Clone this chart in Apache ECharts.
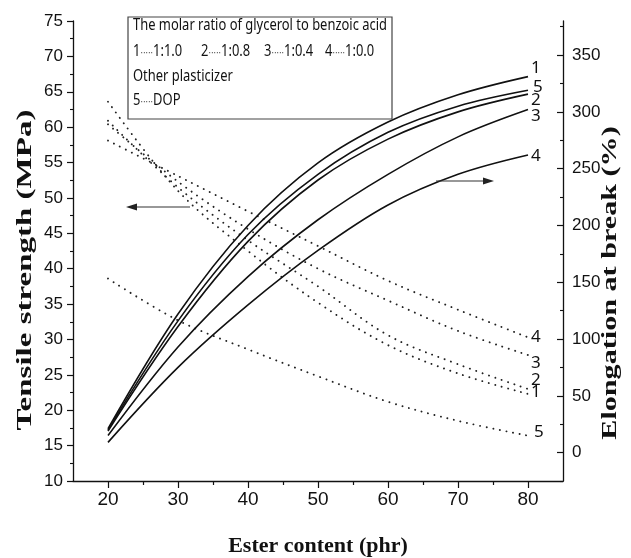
<!DOCTYPE html>
<html><head><meta charset="utf-8">
<script src="https://cdn.jsdelivr.net/npm/echarts@6/dist/echarts.min.js"></script>
<style>html,body{margin:0;padding:0;background:#fff}#c{width:631px;height:558px}</style>
</head><body><div id="c"></div>
<script>
// ---- data ----
const esterContent = [20, 30, 40, 50, 60, 70, 80];
// Tensile strength (MPa), dotted, left axis
const tensile1 = [63.6, 51.0, 42.5, 35.2, 29.2, 25.2, 22.3];
const tensile2 = [60.9, 51.5, 44.0, 37.5, 30.6, 26.5, 23.0];
const tensile3 = [60.4, 52.3, 45.6, 40.0, 35.5, 31.2, 27.8];
const tensile4 = [58.1, 53.1, 48.1, 43.2, 38.3, 34.2, 30.3];
const tensile5 = [38.6, 32.7, 28.6, 24.8, 21.2, 18.5, 16.4];
// Elongation at break (%), solid, right axis
const elong1 = [21, 122, 200, 255, 291, 315, 331];
const elong2 = [19, 111, 186, 240, 276, 300, 315.6];
const elong3 = [15, 93, 155, 205, 245, 278, 302];
const elong4 = [9, 75, 130, 178, 218, 245, 262];
const elong5 = [20, 116, 192, 245, 282, 305, 319];
// curve names
const curveIds = ['1', '2', '3', '4', '5'];
// tick labels
const xTicks = [20, 30, 40, 50, 60, 70, 80];
const xMinorTicks = [25, 35, 45, 55, 65, 75];
const rightTicks = [0, 50, 100, 150, 200, 250, 300, 350];
const rightMinorTicks = [-25, 25, 75, 125, 175, 225, 275, 325, 375];
// legend texts
const legendTitle = 'The molar ratio of glycerol to benzoic acid';
const ratioLabels = ['1:1.0', '1:0.8', '1:0.4', '1:0.0'];
const otherTitle = 'Other plasticizer';
const otherLabel = 'DOP';

const chart = echarts.init(document.getElementById('c'), null, {renderer: 'canvas'});
const ink = '#111';
const sans = '"Liberation Sans", Arial, sans-serif';
const legendFamily = '"Noto Sans", "Liberation Sans", sans-serif';
const serif = '"Liberation Serif", "Times New Roman", serif';

// horizontal squeeze so the legend text matches the narrow face of the original
const mctx = document.createElement('canvas').getContext('2d');
mctx.font = '17px ' + legendFamily;
const legendScale = 254 / mctx.measureText(legendTitle).width;
const legendItemX = [133, 201, 264, 325];

function mk(name, values, yIdx, dotted, offset) {
  return {
    type: 'line', name: name, yAxisIndex: yIdx,
    data: esterContent.map((x, i) => [x, values[i]]),
    smooth: 0.35, symbol: 'none', silent: true, animation: false,
    lineStyle: dotted
      ? {color: '#222', width: 1.9, type: [0.1, 6.6], cap: 'round'}
      : {color: ink, width: 1.6},
    endLabel: {show: true, formatter: name, color: ink, fontSize: 17,
      fontFamily: legendFamily, distance: 3, offset: offset}
  };
}

const tensiles = [tensile1, tensile2, tensile3, tensile4, tensile5];
const elongs = [elong1, elong2, elong3, elong4, elong5];
const tOff = [[0, -2], [0, -9], [0, 8], [0, 0], [3, -4]];
const eOff = [[0, -8], [0, 6], [0, 7], [0, 1], [2, -3]];

const series = [];
curveIds.forEach((id, i) => series.push(mk(id, tensiles[i], 0, true, tOff[i])));
curveIds.forEach((id, i) => series.push(mk(id, elongs[i], 1, false, eOff[i])));

function legendLine(num, label) {
  return '{n|' + num + '}{d|·····}{n|' + label + '}';
}
const legendRich = {
  n: {fontSize: 17, fontFamily: legendFamily, fill: ink},
  d: {fontSize: 10, fontFamily: sans, fill: ink, padding: [4, 0, 0, 0]}
};
function legendText(x, y, text, rich) {
  const st = {text: text, font: '17px ' + legendFamily, fill: ink, verticalAlign: 'middle'};
  if (rich) st.rich = legendRich;
  return {type: 'text', x: x, y: y, scaleX: legendScale, z: 11, style: st};
}

const graphic = [
  {type: 'rect', shape: {x: 128, y: 17, width: 264, height: 102},
   style: {fill: '#fff', stroke: '#444', lineWidth: 1.2}, z: 10},
  legendText(133, 25, legendTitle, false),
  legendText(133, 76, otherTitle, false),
  legendText(133, 100, legendLine('5', otherLabel), true),
  // axis titles
  {type: 'text', x: 25, y: 270, rotation: Math.PI / 2, scaleX: 1.5, z: 11,
   style: {text: 'Tensile strength (MPa)', font: 'bold 22px ' + serif, fill: ink, align: 'center', verticalAlign: 'middle'}},
  {type: 'text', x: 610, y: 283, rotation: Math.PI / 2, scaleX: 1.37, z: 11,
   style: {text: 'Elongation at break (%)', font: 'bold 22px ' + serif, fill: ink, align: 'center', verticalAlign: 'middle'}},
  {type: 'text', x: 318, y: 546, z: 11,
   style: {text: 'Ester content (phr)', font: 'bold 22px ' + serif, fill: ink, align: 'center', verticalAlign: 'middle'}},
  // arrows
  {type: 'line', shape: {x1: 135, y1: 207, x2: 190, y2: 207}, style: {stroke: '#333', lineWidth: 1.2}, z: 11},
  {type: 'polygon', shape: {points: [[126, 207], [137, 203.5], [137, 210.5]]}, style: {fill: '#222'}, z: 11},
  {type: 'line', shape: {x1: 436, y1: 181, x2: 485, y2: 181}, style: {stroke: '#333', lineWidth: 1.2}, z: 11},
  {type: 'polygon', shape: {points: [[494, 181], [483, 177.5], [483, 184.5]]}, style: {fill: '#222'}, z: 11}
];
ratioLabels.forEach((lab, i) => {
  graphic.push(legendText(legendItemX[i], 51, legendLine(String(i + 1), lab), true));
});

const axisLineStyle = {color: ink, width: 1.3};

const option = {
  animation: false,
  backgroundColor: '#fff',
  grid: {left: 73, right: 68, top: 21, bottom: 77, containLabel: false},
  xAxis: [
    {type: 'value', min: 15, max: 85, position: 'bottom',
     axisLine: {show: true, onZero: false, lineStyle: axisLineStyle},
     axisTick: {show: true, length: 7, customValues: xTicks, lineStyle: {color: ink, width: 1.2}},
     axisLabel: {show: true, customValues: xTicks, fontSize: 19, fontFamily: sans, color: ink, margin: 9},
     splitLine: {show: false}},
    {type: 'value', min: 15, max: 85, position: 'bottom',
     axisLine: {show: false, onZero: false},
     axisTick: {show: true, length: 4, customValues: xMinorTicks, lineStyle: {color: ink, width: 1.2}},
     axisLabel: {show: false}, splitLine: {show: false}}
  ],
  yAxis: [
    {type: 'value', min: 10, max: 75, interval: 5, position: 'left',
     axisLine: {show: true, onZero: false, lineStyle: axisLineStyle},
     axisTick: {show: true, length: 6, lineStyle: {color: ink, width: 1.2}},
     minorTick: {show: true, splitNumber: 2, length: 3, lineStyle: {color: ink, width: 1.1}},
     axisLabel: {fontSize: 17, fontFamily: sans, color: ink, margin: 10},
     splitLine: {show: false}},
    {type: 'value', min: -25, max: 380, position: 'right', alignTicks: false,
     axisLine: {show: true, onZero: false, lineStyle: axisLineStyle},
     axisTick: {show: true, inside: true, length: 6, customValues: rightTicks, lineStyle: {color: ink, width: 1.2}},
     axisLabel: {customValues: rightTicks, fontSize: 17, fontFamily: sans, color: ink, margin: 9},
     splitLine: {show: false}},
    {type: 'value', min: -25, max: 380, position: 'right', alignTicks: false,
     axisLine: {show: false, onZero: false},
     axisTick: {show: true, inside: true, length: 3, customValues: rightMinorTicks, lineStyle: {color: ink, width: 1.1}},
     axisLabel: {show: false}, splitLine: {show: false}}
  ],
  series: series,
  graphic: graphic
};
chart.setOption(option);
</script>
</body></html>
